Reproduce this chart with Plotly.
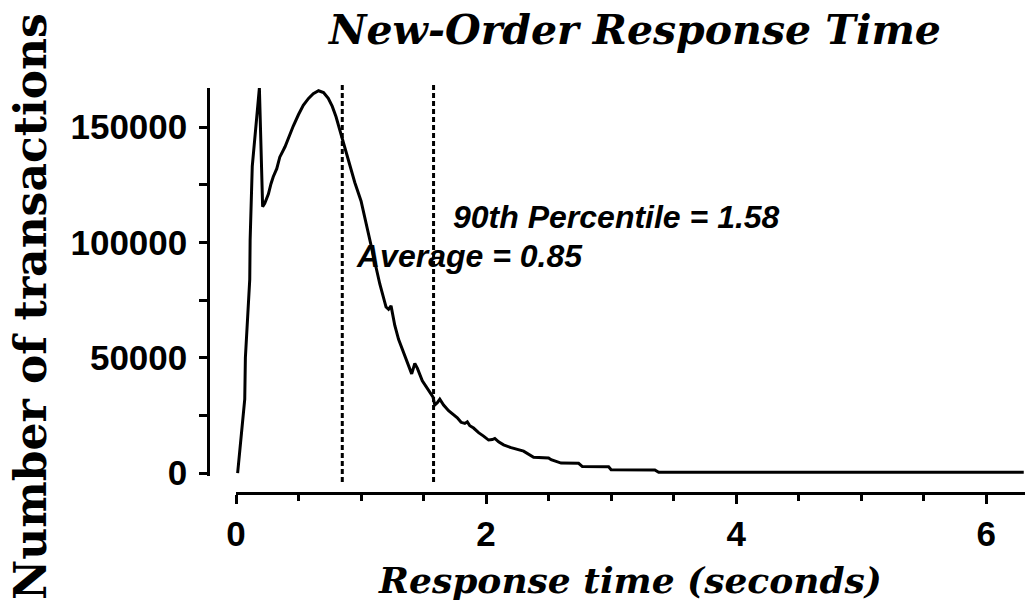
import plotly.graph_objects as go

# Response time (seconds) and number of transactions
resp_time = [0.013, 0.07, 0.075, 0.11, 0.113, 0.13, 0.187, 0.213, 0.23, 0.259, 0.28, 0.298,
             0.326, 0.35, 0.392, 0.42, 0.458, 0.5, 0.538, 0.58, 0.618, 0.66, 0.7, 0.738,
             0.77, 0.80, 0.846, 0.9, 0.95, 1.0, 1.05, 1.1, 1.15, 1.2, 1.22, 1.24, 1.27,
             1.3, 1.34, 1.38, 1.405, 1.43, 1.45, 1.49, 1.53, 1.575, 1.59, 1.61, 1.63, 1.66,
             1.7, 1.74, 1.77, 1.8, 1.83, 1.85, 1.87, 1.9, 1.94, 1.98, 2.02, 2.05, 2.07,
             2.1, 2.14, 2.2, 2.28, 2.3, 2.38, 2.5, 2.52, 2.56, 2.6, 2.74, 2.77, 2.98,
             3.0, 3.35, 3.38, 6.3]
transactions = [0, 32000, 50000, 84000, 101000, 133000, 167000, 115500, 117000, 121000, 125500, 128500,
                132000, 137000, 141500, 145500, 150500, 155500, 159500, 162500, 164500, 165800, 165000, 162500,
                159000, 154500, 146000, 135000, 126000, 118000, 106000, 94000, 82000, 72000, 71000, 72500, 64000,
                58000, 52000, 46000, 43000, 47500, 45500, 40000, 36500, 33000, 29500, 30500, 32000, 29500,
                27000, 25500, 24000, 22000, 21500, 22200, 20500, 19500, 17500, 16000, 14300, 14500, 15000,
                13500, 12200, 11000, 10000, 9500, 6800, 6500, 5800, 5000, 4300, 4200, 2800, 2700,
                1400, 1300, 300, 300]

average = 0.85
percentile_90 = 1.58

x_ticks = [0, 2, 4, 6]
y_ticks = [0, 50000, 100000, 150000]

W, H = 1025, 614

fig = go.Figure()
fig.add_trace(go.Scatter(x=resp_time, y=transactions, mode="lines",
                         line=dict(color="black", width=3), showlegend=False,
                         hoverinfo="x+y"))

for v in (average, percentile_90):
    fig.add_shape(type="line", xref="x", yref="paper", x0=v, x1=v,
                  y0=(H - 482) / H, y1=(H - 85) / H,
                  line=dict(color="black", width=3, dash="5px,3px"))

sans_bi = dict(family="Liberation Sans, Arial, sans-serif", size=32, color="black",
               weight="bold", style="italic")
fig.add_annotation(x=percentile_90, y=111000, xref="x", yref="y", xanchor="left", yanchor="middle",
                   xshift=17, text=f"90th Percentile = {percentile_90}", showarrow=False, font=sans_bi)
fig.add_annotation(x=average, y=94000, xref="x", yref="y", xanchor="left", yanchor="middle",
                   xshift=12, text=f"Average = {average}", showarrow=False, font=sans_bi)

fig.add_annotation(x=30 / W, y=(H - 307) / H, xref="paper", yref="paper", textangle=-90,
                   text="Number of transactions", showarrow=False, xanchor="center", yanchor="middle",
                   font=dict(family="DejaVu Serif, serif", size=44, color="black", weight="bold"))

tick_font = dict(family="Liberation Sans, Arial, sans-serif", size=35, color="black", weight="bold")

fig.update_layout(
    template="none",
    width=W, height=H,
    margin=dict(l=0, r=0, t=0, b=0, pad=0),
    paper_bgcolor="white", plot_bgcolor="white",
    title=dict(text="New-Order Response Time", x=635 / W, y=1 - 30 / H, xanchor="center",
               yanchor="middle", automargin=False,
               font=dict(family="DejaVu Serif, serif", size=41, color="black",
                         weight="bold", style="italic")),
    xaxis=dict(domain=[236 / W, 1.0], range=[0, 6.31], anchor="free", position=(H - 493) / H,
               automargin=False,
               showline=True, linecolor="black", linewidth=2.5, showgrid=False, zeroline=False,
               ticks="outside", ticklen=9, tickwidth=2.5, tickcolor="black",
               tickvals=x_ticks, tickfont=tick_font,
               minor=dict(dtick=0.5, tick0=0, ticks="outside", ticklen=6, tickwidth=2.5,
                          tickcolor="black", showgrid=False),
               title=dict(text="Response time (seconds)", standoff=16,
                          font=dict(family="DejaVu Serif, serif", size=36, color="black",
                                    weight="bold", style="italic"))),
    yaxis=dict(domain=[(H - 475.8) / H, 1 - 88 / H], range=[-1200, 167000], anchor="free",
               position=208 / W, automargin=False,
               showline=True, linecolor="black", linewidth=2.5,
               showgrid=False, zeroline=False, ticks="outside", ticklen=8, tickwidth=2.5,
               tickcolor="black", tickvals=y_ticks, tickformat="d", tickfont=tick_font,
               ticklabelstandoff=5,
               minor=dict(dtick=25000, tick0=0, ticks="outside", ticklen=8, tickwidth=2.5,
                          tickcolor="black", showgrid=False)),
)

fig.write_html("out.html", config={"displayModeBar": False},
               post_script="document.body.style.margin='0';")
